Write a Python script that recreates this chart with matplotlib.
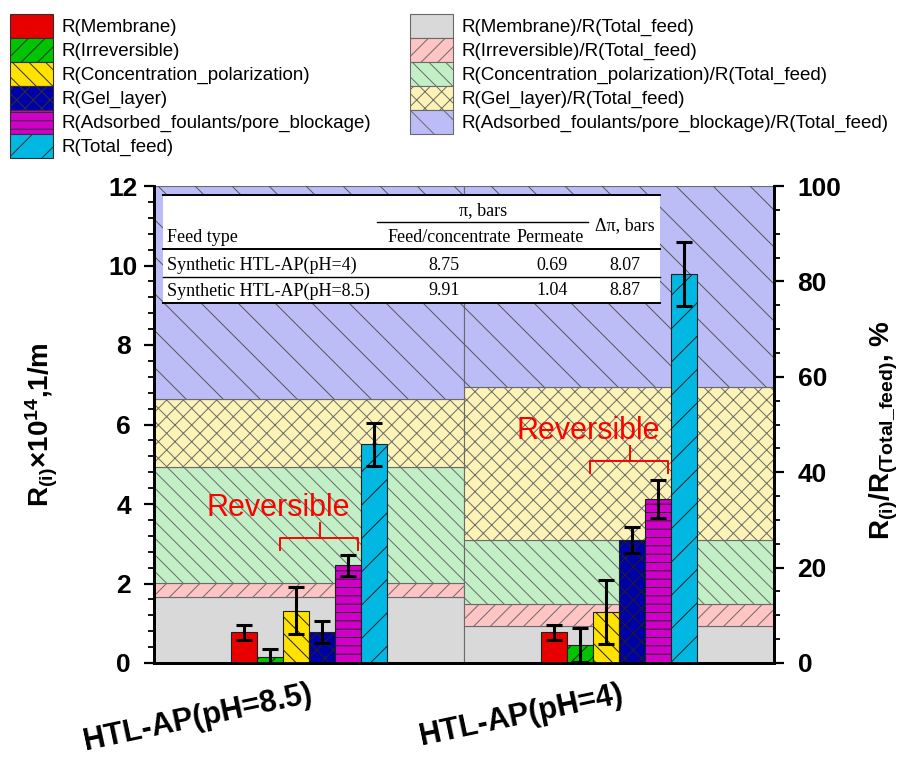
import numpy as np
import matplotlib
matplotlib.use('Agg')
import matplotlib.pyplot as plt
from matplotlib.patches import Patch, Rectangle
from matplotlib.collections import LineCollection
from matplotlib.transforms import IdentityTransform
from matplotlib.ticker import MultipleLocator

plt.rcParams['font.family'] = ['Liberation Sans', 'DejaVu Sans']
plt.rcParams['mathtext.fontset'] = 'custom'
plt.rcParams['mathtext.rm'] = 'Liberation Sans'
plt.rcParams['mathtext.bf'] = 'Liberation Sans:bold'
plt.rcParams['hatch.linewidth'] = 0.7

# data
groups = ['HTL-AP(pH=8.5)', 'HTL-AP(pH=4)']
resist_names = ['R(Membrane)', 'R(Irreversible)', 'R(Concentration_polarization)',
                'R(Gel_layer)', 'R(Adsorbed_foulants/pore_blockage)', 'R(Total_feed)']
# R(i) x 1e14, 1/m
r_ph85 = [0.77, 0.14, 1.32, 0.78, 2.46, 5.50]
err_ph85 = [0.18, 0.20, 0.58, 0.27, 0.26, 0.54]
r_ph4 = [0.77, 0.45, 1.28, 3.10, 4.13, 9.78]
err_ph4 = [0.18, 0.42, 0.80, 0.33, 0.47, 0.80]

share_names = ['R(Membrane)/R(Total_feed)', 'R(Irreversible)/R(Total_feed)',
               'R(Concentration_polarization)/R(Total_feed)', 'R(Gel_layer)/R(Total_feed)',
               'R(Adsorbed_foulants/pore_blockage)/R(Total_feed)']
# percent of total feed resistance
share_ph85 = [13.9, 2.9, 24.2, 14.4, 44.6]
share_ph4 = [7.7, 4.7, 13.4, 32.0, 42.2]

feed_types = ['Synthetic HTL-AP(pH=4)', 'Synthetic HTL-AP(pH=8.5)']
pi_feed = ['8.75', '9.91']
pi_perm = ['0.69', '1.04']
d_pi = ['8.07', '8.87']

reversible_foot = [2.85, 4.79]

bar_colors = ['#e80000', '#00c400', '#ffe200', '#0000a8', '#d000c8', '#00b8e2']
bar_hatch = ['', '//', '\\\\', 'xx', '--', '/']
bg_colors = ['#d9d9d9', '#ffc4c4', '#c2efc6', '#fdf3b6', '#bcbcf6']
bg_hatch = ['', '//', '\\\\', 'xx', '']

fig = plt.figure(figsize=(9.07, 7.57), dpi=100)
ax = fig.add_axes([154 / 907, 94 / 757, 620 / 907, 477 / 757])
ax.set_xlim(-0.5, 1.5)
ax.set_ylim(0, 100)

x = np.arange(len(groups))
bottoms = np.zeros(len(groups))
bg_bars = []
for k in range(len(share_names)):
    vals = np.array([share_ph85[k], share_ph4[k]])
    b = ax.bar(x, vals, width=1.0, bottom=bottoms, color=bg_colors[k], hatch=bg_hatch[k],
               edgecolor='#6a6a6a', linewidth=0.8, zorder=1)
    bottoms += vals
    bg_bars.append(b)

# sparse backslash hatch for the top (adsorbed) layer
pos = ax.get_position()
x0, y0 = pos.x0 * 907, pos.y0 * 757
w_px, h_px = pos.width * 907, pos.height * 757
segs = [[(xs, y0 + h_px), (xs + h_px, y0)] for xs in np.arange(x0 - h_px, x0 + w_px, 37)]
for rect in bg_bars[4]:
    lc = LineCollection(segs, colors='#555555', linewidths=0.7, transform=IdentityTransform(), zorder=1.5)
    ax.add_collection(lc, autolim=False)
    lc.set_clip_path(rect)

axr = ax.twinx()
axr.set_ylim(0, 12)
ax.yaxis.tick_right()
axr.yaxis.tick_left()

w = 0.084
off = (np.arange(len(resist_names)) - 2.5) * w
for i in range(len(resist_names)):
    vals = [r_ph85[i], r_ph4[i]]
    errs = [err_ph85[i], err_ph4[i]]
    axr.bar(x + off[i], vals, width=w, color=bar_colors[i], hatch=bar_hatch[i],
            edgecolor='#202020', linewidth=0.8, zorder=2)
    axr.errorbar(x + off[i], vals, yerr=errs, fmt='none', ecolor='black',
                 elinewidth=2.2, capsize=6, capthick=2.2, zorder=3)

# "Reversible" brackets
for gi in range(len(groups)):
    yb = reversible_foot[gi]
    xl, xr, xm = x[gi] - 0.094, x[gi] + 0.158, x[gi] + 0.035
    axr.plot([xl, xl, xr, xr], [yb, yb + 0.3, yb + 0.3, yb], color='red', lw=1.4, zorder=3)
    axr.plot([xm, xm], [yb + 0.3, yb + 0.68], color='red', lw=1.4, zorder=3)
    axr.text(x[gi] - 0.10, yb + 1.04, 'Reversible', color='red', fontsize=22,
             ha='center', va='center', zorder=3)

# axes styling
for a in (ax, axr):
    a.spines['top'].set_visible(False)
    for s in ('left', 'right', 'bottom'):
        a.spines[s].set_linewidth(2)

axr.set_yticks(np.arange(0, 13, 2), labels=[str(v) for v in range(0, 13, 2)],
               fontweight='bold', ha='center')
axr.yaxis.set_minor_locator(MultipleLocator(0.4))
axr.tick_params(axis='y', which='major', direction='out', length=7, width=1.6, labelsize=19, pad=15)
axr.tick_params(axis='y', which='minor', direction='out', length=4, width=1.3)

ax.set_yticks(range(0, 101, 20), labels=[str(v) for v in range(0, 101, 20)], fontweight='bold')
ax.yaxis.set_minor_locator(MultipleLocator(5))
ax.tick_params(axis='y', which='major', direction='out', length=7, width=1.6, labelsize=19, pad=10)
ax.tick_params(axis='y', which='minor', direction='out', length=4, width=1.3)

ax.set_xticks(x)
ax.set_xticklabels(groups, rotation=12, ha='right', rotation_mode='anchor',
                   fontsize=22, fontweight='bold')
ax.tick_params(axis='x', length=0, pad=12)

fig.text(42 / 907, 1 - 425 / 757, r'$\mathbf{R_{(i)}{\times}10^{14}{,}1/m}$',
         rotation=90, ha='center', va='center', fontsize=20)
fig.text(868 / 907, 1 - 430 / 757, r'$\mathbf{R_{(i)}/R_{(Total\_feed)}}$, %',
         rotation=90, ha='left', va='center', fontsize=20, fontweight='bold')

# osmotic pressure table
tf = dict(transform=axr.transAxes, family='Liberation Serif', fontsize=13, zorder=6)
axr.add_patch(Rectangle((0.0145, 0.755), 0.816 - 0.0145, 0.981 - 0.755, transform=axr.transAxes,
                        facecolor='white', edgecolor='none', zorder=5))
for yy, lw in [(0.981, 1.4), (0.868, 1.4), (0.809, 1.0), (0.755, 1.4)]:
    axr.plot([0.0145, 0.816], [yy, yy], color='black', lw=lw, transform=axr.transAxes,
             zorder=6, clip_on=False)
axr.plot([0.36, 0.70], [0.925, 0.925], color='black', lw=1.0, transform=axr.transAxes, zorder=6)
axr.text(0.531, 0.948, 'π, bars', ha='center', va='center', **tf)
axr.text(0.021, 0.891, 'Feed type', ha='left', va='center', **tf)
axr.text(0.476, 0.891, 'Feed/concentrate', ha='center', va='center', **tf)
axr.text(0.639, 0.891, 'Permeate', ha='center', va='center', **tf)
axr.text(0.760, 0.918, 'Δπ, bars', ha='center', va='center', **tf)
for j, yy in enumerate([0.834, 0.780]):
    axr.text(0.021, yy, feed_types[j], ha='left', va='center', **tf)
    axr.text(0.468, yy, pi_feed[j], ha='center', va='center', **tf)
    axr.text(0.642, yy, pi_perm[j], ha='center', va='center', **tf)
    axr.text(0.760, yy, d_pi[j], ha='center', va='center', **tf)

# legends
h1 = [Patch(facecolor=bar_colors[i], edgecolor='#303030', hatch=bar_hatch[i], linewidth=0.8)
      for i in range(len(resist_names))]
h2 = [Patch(facecolor=bg_colors[k], edgecolor='#6a6a6a', hatch=(bg_hatch[k] if k < 4 else '\\'),
            linewidth=0.8) for k in range(len(share_names))]
leg_kw = dict(loc='upper left', frameon=False, fontsize=13.5, handlelength=2.29, handleheight=1.59,
              labelspacing=0, handletextpad=0.48, borderpad=0, borderaxespad=0)
fig.legend(h1, resist_names, bbox_to_anchor=(10 / 907, 1 - 14 / 757), **leg_kw)
fig.legend(h2, share_names, bbox_to_anchor=(410 / 907, 1 - 14 / 757), **leg_kw)

fig.savefig('out.png', dpi=100)
